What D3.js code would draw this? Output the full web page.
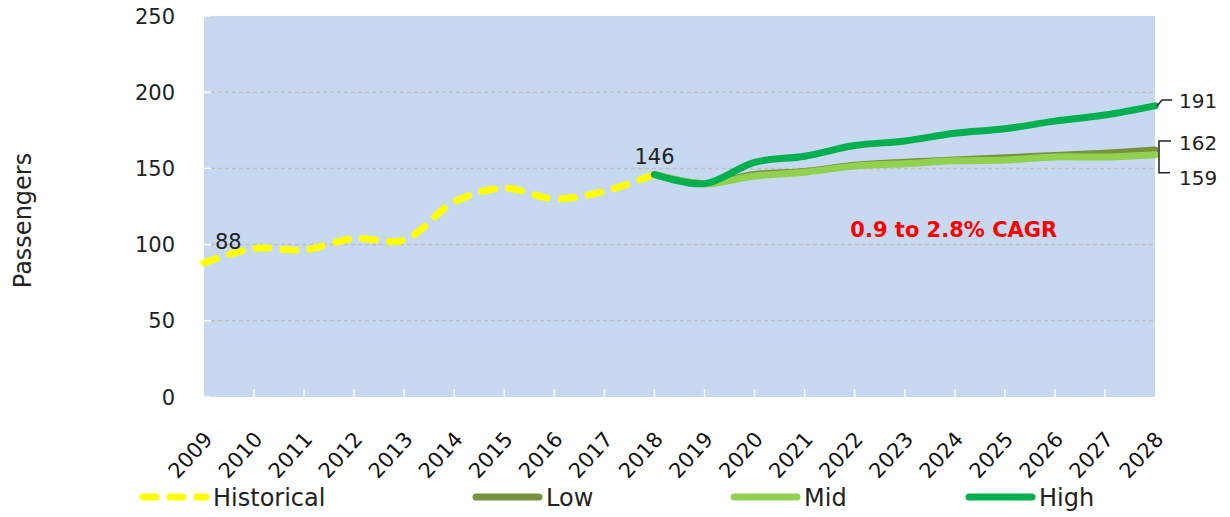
<!DOCTYPE html>
<html>
<head>
<meta charset="utf-8">
<script src="https://cdn.jsdelivr.net/npm/d3@7"></script>
<style>
  body { margin: 0; background: #fff; }
  svg { display: block; font-family: "DejaVu Sans", sans-serif; }
</style>
</head>
<body>
<div id="chart"></div>
<script>
// categories
const years = [2009, 2010, 2011, 2012, 2013, 2014, 2015, 2016, 2017, 2018,
               2019, 2020, 2021, 2022, 2023, 2024, 2025, 2026, 2027, 2028]
const yTicks = [0, 50, 100, 150, 200, 250]

// historical series
const histYears = [2009, 2010, 2011, 2012, 2013, 2014, 2015, 2016, 2017, 2018]
const histValues = [88, 97.5, 96.5, 104, 103, 128, 137, 130, 135, 146]

// forecast series
const fcYears = [2018, 2019, 2020, 2021, 2022, 2023, 2024, 2025, 2026, 2027, 2028]
const lowValues = [146, 140, 146, 148, 152, 154, 155.5, 157, 158.5, 160, 162]
const midValues = [146, 140, 145, 147.5, 151.5, 153, 155, 155.5, 157.5, 157.5, 159]
const highValues = [146, 140, 154, 158, 165, 168, 173, 176, 181, 185, 191]

const seriesNames = ['Historical', 'Low', 'Mid', 'High']
const seriesColors = ['#ffff00', '#76923c', '#92d050', '#00b050']

const svgWidth = 1230
const svgHeight = 517
const margin = { left: 204, right: 75, top: 16, bottom: 120 }
const width = svgWidth - margin.left - margin.right
const height = svgHeight - margin.top - margin.bottom

const svg = d3.select('#chart')
    .append('svg')
    .attr('width', svgWidth)
    .attr('height', svgHeight)

const g = svg.append('g')
    .attr('transform', `translate(${margin.left},${margin.top})`)

////////////// scales //////////////
const x = d3.scalePoint()
    .domain(years)
    .range([0, width])

const y = d3.scaleLinear()
    .domain([0, 250])
    .range([height, 0])

const color = d3.scaleOrdinal()
    .domain(seriesNames)
    .range(seriesColors)

////////////// plot area //////////////
g.append('rect')
    .attr('width', width)
    .attr('height', height)
    .attr('fill', '#c6d9f0')

// gridlines
g.append('g')
    .selectAll('line')
    .data(yTicks.filter(d => d > 0 && d < 250))
    .join('line')
    .attr('x1', 0)
    .attr('x2', width)
    .attr('y1', d => y(d))
    .attr('y2', d => y(d))
    .attr('stroke', '#bfbfbf')
    .attr('stroke-width', 1.5)
    .attr('stroke-dasharray', '4,3')

// small white ticks at left
g.append('g')
    .selectAll('line')
    .data(yTicks)
    .join('line')
    .attr('x1', 0)
    .attr('x2', 7)
    .attr('y1', d => y(d))
    .attr('y2', d => y(d))
    .attr('stroke', '#fff')
    .attr('stroke-width', 1.5)

// y axis labels
g.append('g')
    .selectAll('text')
    .data(yTicks)
    .join('text')
    .attr('x', -29)
    .attr('y', d => y(d))
    .attr('dy', '0.36em')
    .attr('text-anchor', 'end')
    .attr('font-size', 21)
    .attr('fill', '#222')
    .text(d => d)

svg.append('text')
    .attr('transform', `translate(31,${margin.top + height / 2 + 14}) rotate(-90)`)
    .attr('text-anchor', 'middle')
    .attr('font-size', 24)
    .attr('fill', '#222')
    .text('Passengers')

// x axis ticks (white notches) and labels
g.append('g')
    .selectAll('line')
    .data(years.slice(1, -1))
    .join('line')
    .attr('x1', d => x(d))
    .attr('x2', d => x(d))
    .attr('y1', height)
    .attr('y2', height - 8)
    .attr('stroke', '#fff')
    .attr('stroke-width', 1.5)

g.append('g')
    .selectAll('text')
    .data(years)
    .join('text')
    .attr('transform', d => `translate(${x(d) + 4},${height + 38}) rotate(-48)`)
    .attr('text-anchor', 'end')
    .attr('dy', '0.36em')
    .attr('font-size', 21)
    .attr('fill', '#111')
    .text(d => d)

////////////// lines //////////////
const line = d3.line()
    .x(d => x(d.year))
    .y(d => y(d.value))
    .curve(d3.curveCatmullRom.alpha(0.5))

const zip = (ys, vs) => ys.map((yr, i) => ({ year: yr, value: vs[i] }))

g.append('path')
    .attr('d', line(zip(histYears, histValues)))
    .attr('fill', 'none')
    .attr('stroke', color('Historical'))
    .attr('stroke-width', 7)
    .attr('stroke-linecap', 'round')
    .attr('stroke-dasharray', '13,14')

const forecasts = [
    { name: 'Low', values: lowValues },
    { name: 'Mid', values: midValues },
    { name: 'High', values: highValues }
]

g.append('g')
    .selectAll('path')
    .data(forecasts)
    .join('path')
    .attr('d', d => line(zip(fcYears, d.values)))
    .attr('fill', 'none')
    .attr('stroke', d => color(d.name))
    .attr('stroke-width', 7)
    .attr('stroke-linecap', 'round')
    .attr('stroke-linejoin', 'round')

////////////// data labels //////////////
g.append('text')
    .attr('x', x(2009) + 11)
    .attr('y', y(histValues[0]) - 14)
    .attr('font-size', 21)
    .attr('fill', '#222')
    .text(histValues[0])

g.append('text')
    .attr('x', x(2018) - 20)
    .attr('y', y(histValues[histValues.length - 1]) - 10)
    .attr('font-size', 21)
    .attr('fill', '#222')
    .text(histValues[histValues.length - 1])

// end labels with leader lines
const xEnd = x(2028)
const yHigh = y(highValues[highValues.length - 1])
const yLow = y(lowValues[lowValues.length - 1])
const yMid = y(midValues[midValues.length - 1])

g.append('path')
    .attr('d', `M${xEnd + 2},${yHigh} L${xEnd + 7},${yHigh - 6} L${xEnd + 17},${yHigh - 6}`)
    .attr('fill', 'none')
    .attr('stroke', '#222')
    .attr('stroke-width', 1.5)

g.append('path')
    .attr('d', `M${xEnd + 16},${yLow - 9} L${xEnd + 4},${yLow - 9} L${xEnd + 4},${yMid + 18} L${xEnd + 15},${yMid + 18}`)
    .attr('fill', 'none')
    .attr('stroke', '#222')
    .attr('stroke-width', 1.5)

const endLabels = [
    { v: highValues[highValues.length - 1], py: yHigh - 5 },
    { v: lowValues[lowValues.length - 1], py: yLow - 7 },
    { v: midValues[midValues.length - 1], py: yMid + 23 }
]

g.append('g')
    .selectAll('text')
    .data(endLabels)
    .join('text')
    .attr('x', xEnd + 24)
    .attr('y', d => d.py)
    .attr('dy', '0.36em')
    .attr('font-size', 20)
    .attr('fill', '#222')
    .text(d => d.v)

g.append('text')
    .attr('x', x(2024) - 1)
    .attr('y', y(105))
    .attr('text-anchor', 'middle')
    .attr('font-size', 21)
    .attr('font-weight', 'bold')
    .attr('fill', '#ff0000')
    .text('0.9 to 2.8% CAGR')

////////////// legend //////////////
const legendX = d3.scaleOrdinal()
    .domain(seriesNames)
    .range([140, 473, 731, 966])
const legendY = 497

const leg = svg.append('g')
    .selectAll('g')
    .data(seriesNames)
    .join('g')
    .attr('transform', d => `translate(${legendX(d)},${legendY})`)

leg.append('line')
    .attr('x1', 3)
    .attr('x2', 66)
    .attr('stroke', d => color(d))
    .attr('stroke-width', 7)
    .attr('stroke-linecap', 'round')
    .attr('stroke-dasharray', d => d === 'Historical' ? '13,14' : null)

leg.append('text')
    .attr('x', 73)
    .attr('dy', '0.36em')
    .attr('font-size', 24)
    .attr('fill', '#222')
    .text(d => d)
</script>
</body>
</html>
